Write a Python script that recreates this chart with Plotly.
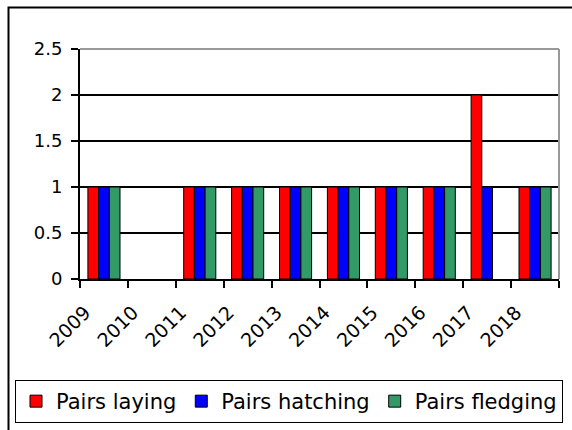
import numpy as np
import plotly.graph_objects as go

# Breeding outcome per season
years = ["2009", "2010", "2011", "2012", "2013", "2014", "2015", "2016", "2017", "2018"]
pairs_laying = [1, 0, 1, 1, 1, 1, 1, 1, 2, 1]
pairs_hatching = [1, 0, 1, 1, 1, 1, 1, 1, 1, 1]
pairs_fledging = [1, 0, 1, 1, 1, 1, 1, 1, 0, 1]

series = [
    ("Pairs laying", pairs_laying, "#FF0000"),
    ("Pairs hatching", pairs_hatching, "#0000FF"),
    ("Pairs fledging", pairs_fledging, "#339966"),
]

FONT = "DejaVu Sans"
W, H = 572, 430
L, R, T, B = 80, 13, 49, 151
pw, ph = W - L - R, H - T - B


def px_x(p):
    return (p - L) / pw


def px_y(p):
    return (H - B - p) / ph


# each season occupies one unit; year labels sit on the left boundary
centers = np.arange(len(years)) + 0.5

fig = go.Figure()
for name, vals, color in series:
    fig.add_trace(go.Bar(
        x=centers, y=vals, name=name,
        marker=dict(color=color,
                    line=dict(color="black", width=[1 if v else 0 for v in vals])),
    ))

fig.update_layout(
    width=W, height=H,
    margin=dict(l=L, r=R, t=T, b=B, autoexpand=False),
    paper_bgcolor="white", plot_bgcolor="white",
    barmode="group", bargap=0.33, bargroupgap=0,
    font=dict(family=FONT, size=18, color="black"),
    showlegend=True,
    legend=dict(
        orientation="h", xanchor="left", yanchor="top",
        xref="paper", yref="paper",
        x=px_x(15), y=px_y(380),
        bordercolor="black", borderwidth=1,
        font=dict(family=FONT, size=21, color="black"),
        itemwidth=30, traceorder="normal",
    ),
    xaxis=dict(
        range=[0, len(years)],
        tickmode="array",
        tickvals=list(range(len(years) + 1)),
        ticktext=years + [""],
        tickangle=-45,
        ticks="outside", ticklen=7, tickwidth=2, tickcolor="black",
        ticklabelstandoff=6, ticklabelshift=5,
        showline=True, linecolor="black", linewidth=2,
        showgrid=False, zeroline=False, automargin=False,
        tickfont=dict(family=FONT, size=19),
    ),
    yaxis=dict(
        range=[0, 2.5],
        tickmode="array",
        tickvals=[0, 0.5, 1, 1.5, 2, 2.5],
        ticktext=["0", "0.5", "1", "1.5", "2", "2.5"],
        ticks="outside", ticklen=7, tickwidth=2, tickcolor="black",
        ticklabelstandoff=5,
        showline=True, linecolor="black", linewidth=2,
        showgrid=True, gridcolor="black", gridwidth=1.5,
        zeroline=False, automargin=False,
        tickfont=dict(family=FONT, size=18),
    ),
    shapes=[
        # grey plot-area edge on top and right
        dict(type="line", xref="paper", yref="paper", x0=0, x1=1, y0=1, y1=1,
             line=dict(color="#999999", width=2), layer="above"),
        dict(type="line", xref="paper", yref="paper", x0=1, x1=1, y0=0, y1=1,
             line=dict(color="#999999", width=2), layer="above"),
        # chart frame
        dict(type="rect", xref="paper", yref="paper",
             x0=px_x(8.5), x1=px_x(580), y0=px_y(7.5), y1=px_y(440),
             line=dict(color="black", width=2), fillcolor="rgba(0,0,0,0)",
             layer="below"),
    ],
)

fig.write_html("out.html")
